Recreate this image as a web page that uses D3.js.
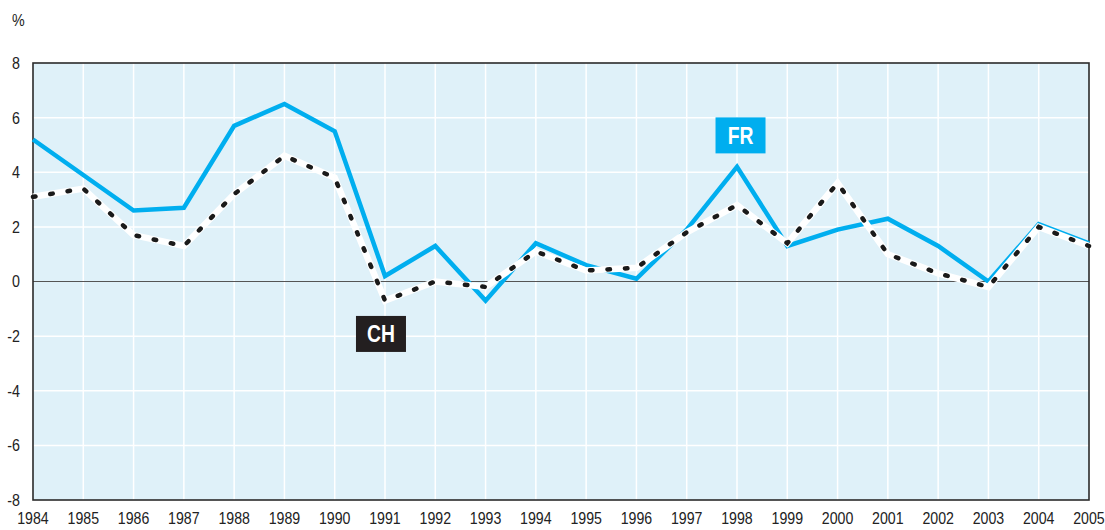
<!DOCTYPE html>
<html>
<head>
<meta charset="utf-8">
<script src="https://cdn.jsdelivr.net/npm/d3@7"></script>
<style>
  body { margin: 0; background: #fff; overflow: hidden; }
  svg { display: block; font-family: "Liberation Sans", Arial, sans-serif; }
</style>
</head>
<body>
<svg width="1105" height="530"></svg>
<script>
  const years = d3.range(1984, 2006);
  const fr = [5.2, 3.9, 2.6, 2.7, 5.7, 6.5, 5.5, 0.2, 1.3, -0.7, 1.4, 0.6, 0.1, 1.9, 4.2, 1.3, 1.9, 2.3, 1.3, 0.0, 2.1, 1.4];
  const ch = [3.1, 3.4, 1.7, 1.3, 3.2, 4.6, 3.8, -0.7, 0.0, -0.2, 1.1, 0.4, 0.5, 1.8, 2.8, 1.4, 3.6, 1.0, 0.3, -0.2, 2.0, 1.3];
  const yTicks = [-8, -6, -4, -2, 0, 2, 4, 6, 8];

  const svg = d3.select('svg');
  const margin = { top: 63, right: 16, bottom: 30, left: 33 };
  const width = 1105, height = 530;
  const innerWidth = width - margin.left - margin.right;
  const innerHeight = height - margin.top - margin.bottom;
  const narrow = 0.84; // horizontal squeeze to mimic a condensed face

  const x = d3.scaleLinear().domain([1984, 2005]).range([0, innerWidth]);
  const y = d3.scaleLinear().domain([-8, 8]).range([innerHeight, 0]);

  const g = svg.append('g')
      .attr('transform', `translate(${margin.left},${margin.top})`);

  g.append('rect')
      .attr('width', innerWidth)
      .attr('height', innerHeight)
      .attr('fill', '#dff1f9');

  // grid
  g.selectAll('.vgrid').data(years.slice(1, -1))
    .enter().append('line')
      .attr('x1', d => x(d)).attr('x2', d => x(d))
      .attr('y1', 0).attr('y2', innerHeight)
      .attr('stroke', '#fff').attr('stroke-width', 1.5);

  g.selectAll('.hgrid').data(yTicks.slice(1, -1).filter(d => d !== 0))
    .enter().append('line')
      .attr('x1', 0).attr('x2', innerWidth)
      .attr('y1', d => y(d)).attr('y2', d => y(d))
      .attr('stroke', '#fff').attr('stroke-width', 1.5);

  g.append('line')
      .attr('x1', 0).attr('x2', innerWidth)
      .attr('y1', y(0)).attr('y2', y(0))
      .attr('stroke', '#555').attr('stroke-width', 1.2);

  g.append('rect')
      .attr('width', innerWidth)
      .attr('height', innerHeight)
      .attr('fill', 'none')
      .attr('stroke', '#2b2b2b')
      .attr('stroke-width', 1.6);

  // axes labels
  g.selectAll('.ylab').data(yTicks)
    .enter().append('text')
      .attr('transform', d => `translate(-13,${y(d)}) scale(${narrow},1)`)
      .attr('dy', '0.35em')
      .attr('text-anchor', 'end')
      .attr('font-size', 17)
      .attr('fill', '#222')
      .text(d => d);

  g.selectAll('.xlab').data(years)
    .enter().append('text')
      .attr('x', d => x(d))
      .attr('y', innerHeight + 23.5)
      .attr('text-anchor', 'middle')
      .attr('font-size', 17)
      .attr('textLength', 31.5)
      .attr('lengthAdjust', 'spacingAndGlyphs')
      .attr('fill', '#222')
      .text(d => d);

  svg.append('text')
      .attr('transform', `translate(12,26) scale(${narrow},1)`)
      .attr('font-size', 17)
      .attr('fill', '#222')
      .text('%');

  const line = d3.line().x((d, i) => x(years[i])).y(d => y(d));

  g.append('path')
      .attr('d', line(fr))
      .attr('fill', 'none')
      .attr('stroke', '#00aeef')
      .attr('stroke-width', 4.5)
      .attr('stroke-linejoin', 'miter');

  g.append('path')
      .attr('d', line(ch))
      .attr('fill', 'none')
      .attr('stroke', '#fff')
      .attr('stroke-width', 6.5);

  g.append('path')
      .attr('d', line(ch))
      .attr('fill', 'none')
      .attr('stroke', '#1a1a1a')
      .attr('stroke-width', 4.5)
      .attr('stroke-linecap', 'round')
      .attr('stroke-dasharray', '2.5 15');

  // series labels
  const labels = [
    { text: 'FR', year: 1998.07, val: 5.35, fill: '#00aeef' },
    { text: 'CH', year: 1990.92, val: -1.92, fill: '#231f20' }
  ];
  const lg = g.selectAll('.lab').data(labels).enter().append('g')
      .attr('transform', d => `translate(${x(d.year)},${y(d.val)})`);
  lg.append('rect')
      .attr('x', -25).attr('y', -18)
      .attr('width', 50).attr('height', 36)
      .attr('fill', d => d.fill);
  lg.append('text')
      .attr('transform', `scale(${narrow},1)`)
      .attr('text-anchor', 'middle')
      .attr('dy', '0.36em')
      .attr('font-size', 23)
      .attr('font-weight', 'bold')
      .attr('fill', '#fff')
      .text(d => d.text);
</script>
</body>
</html>
